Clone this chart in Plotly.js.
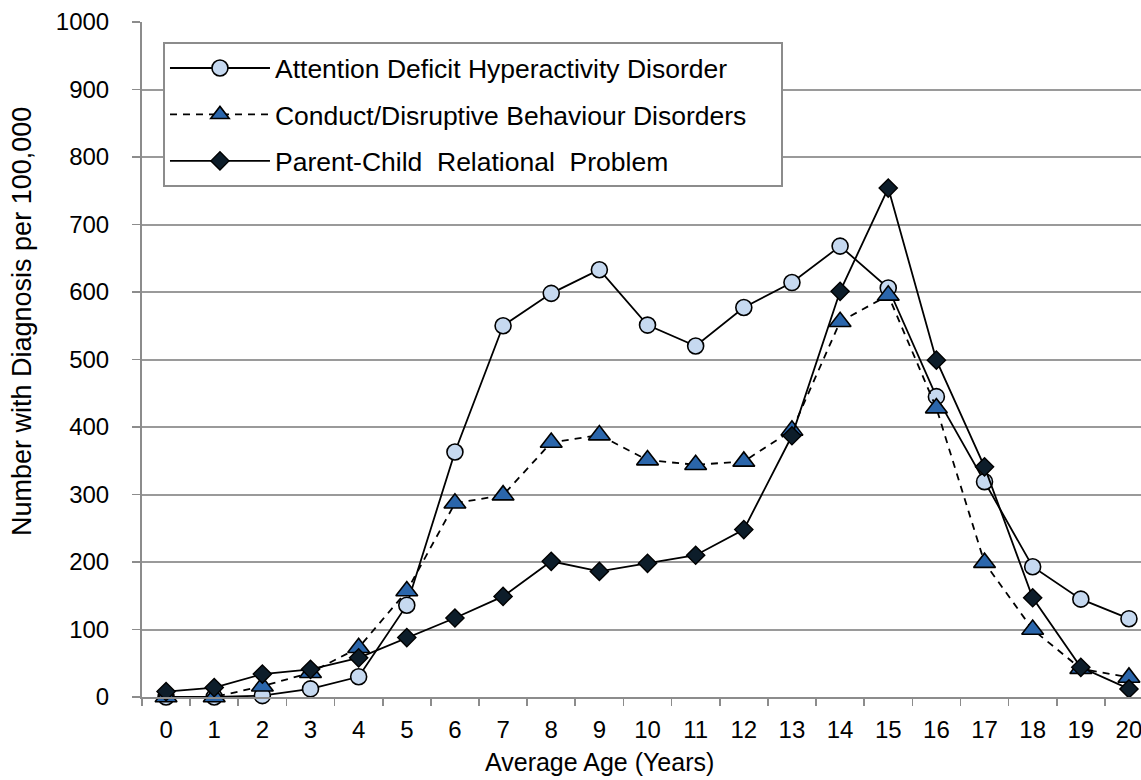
<!DOCTYPE html>
<html>
<head>
<meta charset="utf-8">
<script src="https://cdn.plot.ly/plotly-3.0.1.min.js"></script>
<style>
  html, body { margin: 0; padding: 0; background: #ffffff; }
  #chart { width: 1141px; height: 780px; }
</style>
</head>
<body>
<div id="chart"></div>
<script>
// Ages (categories on the x axis)
const ages = ["0","1","2","3","4","5","6","7","8","9","10","11","12","13","14","15","16","17","18","19","20"];

// Number with diagnosis per 100,000
const adhd = [0, 0, 2, 12, 30, 136, 363, 550, 598, 633, 551, 520, 577, 614, 668, 606, 445, 319, 193, 145, 116];
const conduct = [0, 0, 16, 36, 73, 157, 287, 299, 377, 388, 351, 344, 349, 395, 556, 595, 428, 199, 100, 42, 29];
const parentChild = [8, 14, 34, 41, 58, 88, 117, 149, 201, 186, 198, 210, 248, 387, 601, 754, 499, 341, 147, 44, 12];

const seriesNames = [
  "Attention Deficit Hyperactivity Disorder",
  "Conduct/Disruptive Behaviour Disorders\u00a0\u00a0\u00a0\u00a0",
  "Parent-Child  Relational  Problem"
];

const yTicks = [0, 100, 200, 300, 400, 500, 600, 700, 800, 900, 1000];

const xTitle = "Average Age (Years)";
const yTitle = "Number with Diagnosis per 100,000";

const FONT = "Liberation Sans, Arial, sans-serif";

const traces = [
  {
    x: ages, y: adhd, name: seriesNames[0], type: "scatter", mode: "lines+markers",
    legendgroup: "a", cliponaxis: false,
    line: { color: "#000000", width: 1.8 },
    marker: { symbol: "circle", size: 16, color: "#c6d9f0", line: { color: "#000000", width: 1.6 } }
  },
  {
    x: ages, y: conduct, name: seriesNames[1], type: "scatter", mode: "lines+markers",
    legendgroup: "b", cliponaxis: false,
    line: { color: "#000000", width: 1.8, dash: "7px,6px" },
    marker: { symbol: "triangle-up", size: 19, color: "#2b66ab", line: { color: "#000000", width: 1.6 } }
  },
  {
    x: ages, y: parentChild, name: seriesNames[2], type: "scatter", mode: "lines+markers",
    legendgroup: "c", cliponaxis: false,
    line: { color: "#000000", width: 1.8 },
    marker: { symbol: "diamond", size: 14, color: "#0d1d2a", line: { color: "#000000", width: 1.4 } }
  }
];

const layout = {
  width: 1141, height: 780,
  paper_bgcolor: "#ffffff", plot_bgcolor: "#ffffff",
  margin: { l: 142, r: 0, t: 22, b: 83, pad: 0 },
  font: { family: FONT, size: 24, color: "#000000" },
  showlegend: true,
  legend: {
    x: 0.021, y: 0.97, xanchor: "left", yanchor: "top",
    bgcolor: "#ffffff", bordercolor: "#8c8c8c", borderwidth: 2,
    font: { family: FONT, size: 26.5, color: "#000000" },
    traceorder: "grouped", tracegroupgap: 9,
    itemwidth: 100
  },
  xaxis: {
    type: "category",
    categoryorder: "array", categoryarray: ages,
    range: [-0.5, 20.25],
    tickson: "boundaries",
    ticks: "outside", ticklen: 7, tickwidth: 1.6, tickcolor: "#8c8c8c",
    ticklabelstandoff: 10,
    showline: true, linecolor: "#8c8c8c", linewidth: 2,
    showgrid: false, zeroline: false,
    tickfont: { family: FONT, size: 24 },
    fixedrange: true
  },
  yaxis: {
    range: [0, 1000],
    tickvals: yTicks,
    ticktext: yTicks.map(String),
    ticks: "outside", ticklen: 8, tickwidth: 1.6, tickcolor: "#8c8c8c",
    ticklabelstandoff: 18,
    showline: true, linecolor: "#8c8c8c", linewidth: 2,
    showgrid: true, gridcolor: "#9a9a9a", gridwidth: 2,
    zeroline: false,
    tickfont: { family: FONT, size: 24 },
    fixedrange: true
  },
  annotations: [
    {
      text: xTitle, xref: "paper", yref: "paper",
      x: (599 - 142) / 999, y: (697 - 762) / 675,
      xanchor: "center", yanchor: "middle", showarrow: false,
      font: { family: FONT, size: 25, color: "#000000" }
    },
    {
      text: yTitle, xref: "paper", yref: "paper", textangle: -90,
      x: (22 - 142) / 999, y: (697 - 322) / 675,
      xanchor: "center", yanchor: "middle", showarrow: false,
      font: { family: FONT, size: 27, color: "#000000" }
    }
  ]
};

Plotly.newPlot("chart", traces, layout, { displayModeBar: false, staticPlot: true });
</script>
</body>
</html>
